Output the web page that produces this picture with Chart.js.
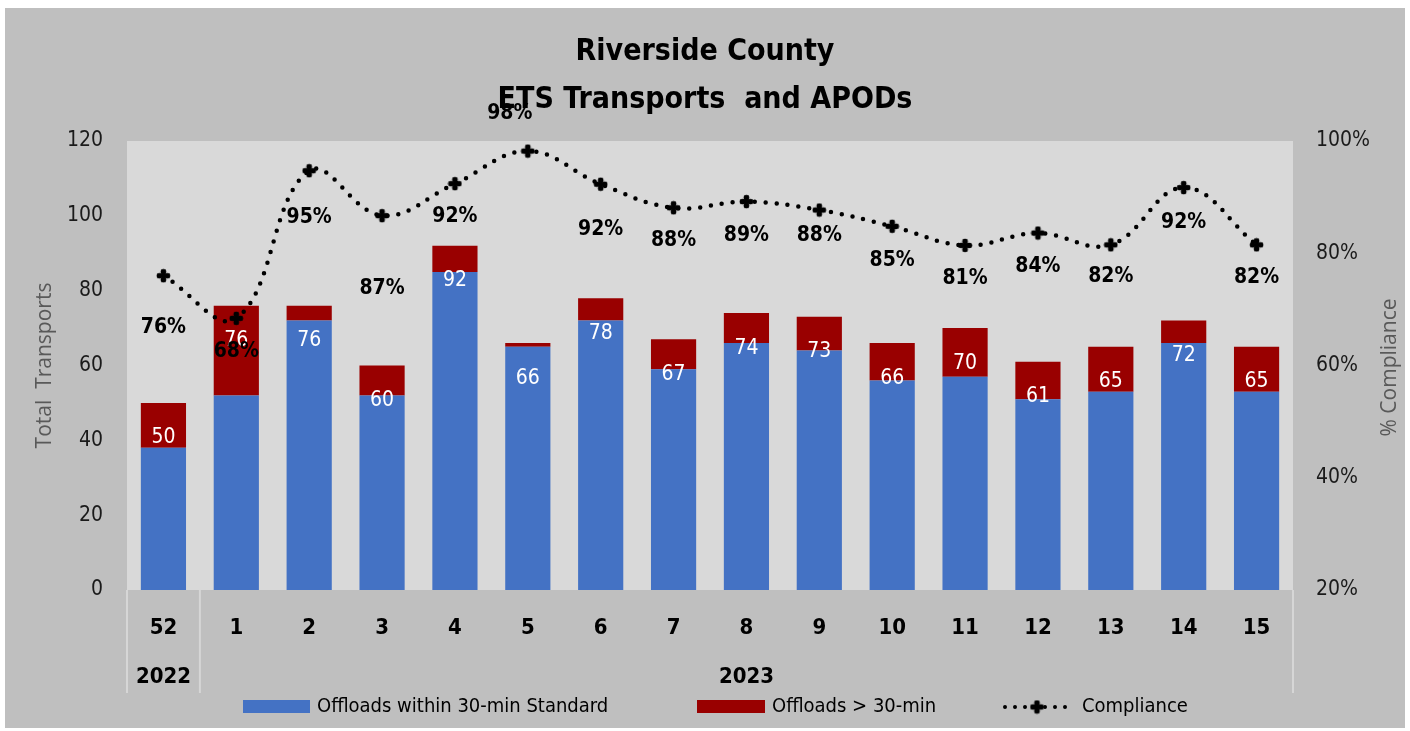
<!DOCTYPE html>
<html>
<head>
<meta charset="utf-8">
<script src="https://cdn.jsdelivr.net/npm/chart.js@4.4.1/dist/chart.umd.min.js"></script>
<style>
  html, body { margin: 0; padding: 0; background: #fff; }
  #wrap { width: 1410px; height: 731px; }
</style>
</head>
<body>
<div id="wrap"><canvas id="myChart" width="1410" height="731"></canvas></div>
<script>
// data
const weeks = ['52', '1', '2', '3', '4', '5', '6', '7', '8', '9', '10', '11', '12', '13', '14', '15'];
const withinStd = [38, 52, 72, 52, 85, 65, 72, 59, 66, 64, 56, 57, 51, 53, 66, 53];
const overStd = [12, 24, 4, 8, 7, 1, 6, 8, 8, 9, 10, 13, 10, 12, 6, 12];
const compliance = [76, 68.4, 94.7, 86.7, 92.4, 98.2, 92.3, 88.1, 89.2, 87.7, 84.8, 81.4, 83.6, 81.5, 91.7, 81.5];
const leftTicks = [0, 20, 40, 60, 80, 100, 120];
const rightTicks = [20, 40, 60, 80, 100];

// label nudges (px) for the % labels, like the hand placed ones in the original
const pctShiftY = [52, 33, 47, 73, 33, -38, 45, 33, 34, 26, 34, 33, 34, 32, 35, 33];
const pctShiftX = [0, 0, 0, 0, 0, -18, 0, 0, 0, 0, 0, 0, 0, 0, 0, 0];

const NARROW = '"Liberation Sans Narrow", "DejaVu Sans Condensed", sans-serif';
const SANS = '"Open Sans", "DejaVu Sans", sans-serif';
const BLUE = '#4472C4';
const RED = '#990000';

// plus shaped marker
const marker = document.createElement('canvas');
marker.width = 15; marker.height = 15;
(function () {
  const m = marker.getContext('2d');
  m.fillStyle = '#000';
  m.fillRect(5.5, 1, 4, 13);
  m.fillRect(1, 5.5, 13, 4);
  [[7.5, 3.5], [7.5, 11.5], [3.5, 7.5], [11.5, 7.5]].forEach(p => {
    m.beginPath(); m.arc(p[0], p[1], 2.8, 0, Math.PI * 2); m.fill();
  });
})();

const bgPlugin = {
  id: 'bg',
  beforeDraw: (chart) => {
    const ctx = chart.ctx, a = chart.chartArea;
    ctx.save();
    ctx.fillStyle = '#fff';
    ctx.fillRect(0, 0, chart.width, chart.height);
    ctx.fillStyle = '#BFBFBF';
    ctx.fillRect(5, 8, 1400, 720);
    ctx.fillStyle = '#D9D9D9';
    ctx.fillRect(a.left, a.top, a.right - a.left, a.bottom - a.top);
    ctx.restore();
  }
};

const labelsPlugin = {
  id: 'labels',
  afterDraw: (chart) => {
    const ctx = chart.ctx, a = chart.chartArea;
    const x = chart.scales.x, y = chart.scales.y, y1 = chart.scales.y1;
    ctx.save();

    // separators under the axis
    ctx.strokeStyle = '#D6D6D6';
    ctx.lineWidth = 2;
    const seps = [a.left, (x.getPixelForValue(0) + x.getPixelForValue(1)) / 2, a.right];
    seps.forEach(sx => {
      ctx.beginPath(); ctx.moveTo(sx, a.bottom); ctx.lineTo(sx, a.bottom + 103); ctx.stroke();
    });

    // years
    ctx.fillStyle = '#000';
    ctx.font = 'bold 22px ' + NARROW;
    ctx.textAlign = 'center';
    ctx.textBaseline = 'middle';
    ctx.fillText('2022', x.getPixelForValue(0), a.bottom + 87);
    ctx.fillText('2023', x.getPixelForValue(8), a.bottom + 87);

    // right axis title, reads bottom to top like the left one
    ctx.save();
    ctx.translate(1390, (y1.top + y1.bottom) / 2 + 2);
    ctx.rotate(-Math.PI / 2);
    ctx.fillStyle = '#595959';
    ctx.font = '21px ' + SANS;
    ctx.fillText('% Compliance', 0, 0);
    ctx.restore();

    // totals inside the bars
    ctx.fillStyle = '#fff';
    ctx.font = '21px ' + NARROW;
    weeks.forEach((w, i) => {
      const tot = withinStd[i] + overStd[i];
      ctx.fillText(String(tot), x.getPixelForValue(i), y.getPixelForValue(tot) + 35);
    });

    // compliance labels
    ctx.fillStyle = '#000';
    ctx.font = 'bold 21px ' + NARROW;
    compliance.forEach((v, i) => {
      ctx.fillText(Math.round(v) + '%', x.getPixelForValue(i) + pctShiftX[i], y1.getPixelForValue(v) + pctShiftY[i]);
    });

    // legend
    const ly = 707;
    ctx.font = '20px ' + NARROW;
    ctx.textAlign = 'left';
    ctx.fillStyle = BLUE;
    ctx.fillRect(243, ly - 7, 67, 13);
    ctx.fillStyle = '#000';
    ctx.fillText('Offloads within 30-min Standard', 317, ly);
    ctx.fillStyle = RED;
    ctx.fillRect(697, ly - 7, 68, 13);
    ctx.fillStyle = '#000';
    ctx.fillText('Offloads > 30-min', 772, ly);
    ctx.strokeStyle = '#000';
    ctx.lineWidth = 4;
    ctx.lineCap = 'round';
    ctx.setLineDash([0, 10]);
    ctx.beginPath(); ctx.moveTo(1005, ly); ctx.lineTo(1069, ly); ctx.stroke();
    ctx.setLineDash([]);
    ctx.drawImage(marker, 1037 - 7.5, ly - 7.5);
    ctx.fillText('Compliance', 1082, ly);

    ctx.restore();
  }
};

const ctx = document.getElementById('myChart').getContext('2d');
const myChart = new Chart(ctx, {
  data: {
    labels: weeks,
    datasets: [
      {
        type: 'line',
        label: 'Compliance',
        data: compliance,
        yAxisID: 'y1',
        order: 0,
        borderColor: '#000',
        borderWidth: 4.5,
        borderDash: [0, 11],
        borderCapStyle: 'round',
        tension: 0.4,
        fill: false,
        pointStyle: marker,
        pointRadius: 7
      },
      {
        type: 'bar',
        label: 'Offloads within 30-min Standard',
        data: withinStd,
        yAxisID: 'y',
        order: 1,
        backgroundColor: BLUE,
        categoryPercentage: 1,
        barPercentage: 0.62
      },
      {
        type: 'bar',
        label: 'Offloads > 30-min',
        data: overStd,
        yAxisID: 'y',
        order: 2,
        backgroundColor: RED,
        categoryPercentage: 1,
        barPercentage: 0.62
      }
    ]
  },
  options: {
    responsive: false,
    animation: false,
    layout: { padding: { top: 8, left: 5, right: 5, bottom: 3 } },
    plugins: {
      legend: { display: false },
      tooltip: { enabled: false },
      title: {
        display: true,
        text: ['Riverside County', 'ETS Transports  and APODs'],
        color: '#000',
        font: { family: NARROW, size: 30, weight: 'bold', lineHeight: 1.6 },
        padding: { top: 20, bottom: 17 }
      }
    },
    scales: {
      x: {
        stacked: true,
        grid: { display: false },
        border: { display: false },
        ticks: { color: '#000', font: { family: NARROW, size: 22, weight: 'bold' }, padding: 17 },
        afterFit: (s) => { s.height = 138; }
      },
      y: {
        stacked: true,
        position: 'left',
        min: leftTicks[0],
        max: leftTicks[leftTicks.length - 1],
        grid: { display: false },
        border: { display: false },
        afterBuildTicks: (s) => { s.ticks = leftTicks.map(v => ({ value: v })); },
        ticks: { color: '#1a1a1a', font: { family: NARROW, size: 21 }, padding: 16 },
        title: { display: true, text: 'Total  Transports', color: '#595959', font: { family: SANS, size: 21 }, padding: { top: 27 } },
        afterFit: (s) => { s.width = 122; }
      },
      y1: {
        position: 'right',
        min: rightTicks[0],
        max: rightTicks[rightTicks.length - 1],
        grid: { display: false },
        border: { display: false },
        afterBuildTicks: (s) => { s.ticks = rightTicks.map(v => ({ value: v })); },
        ticks: { color: '#1a1a1a', font: { family: NARROW, size: 21 }, padding: 15, callback: (v) => v + '%' },
        afterFit: (s) => { s.width = 112; }
      }
    }
  },
  plugins: [bgPlugin, labelsPlugin]
});
</script>
</body>
</html>
